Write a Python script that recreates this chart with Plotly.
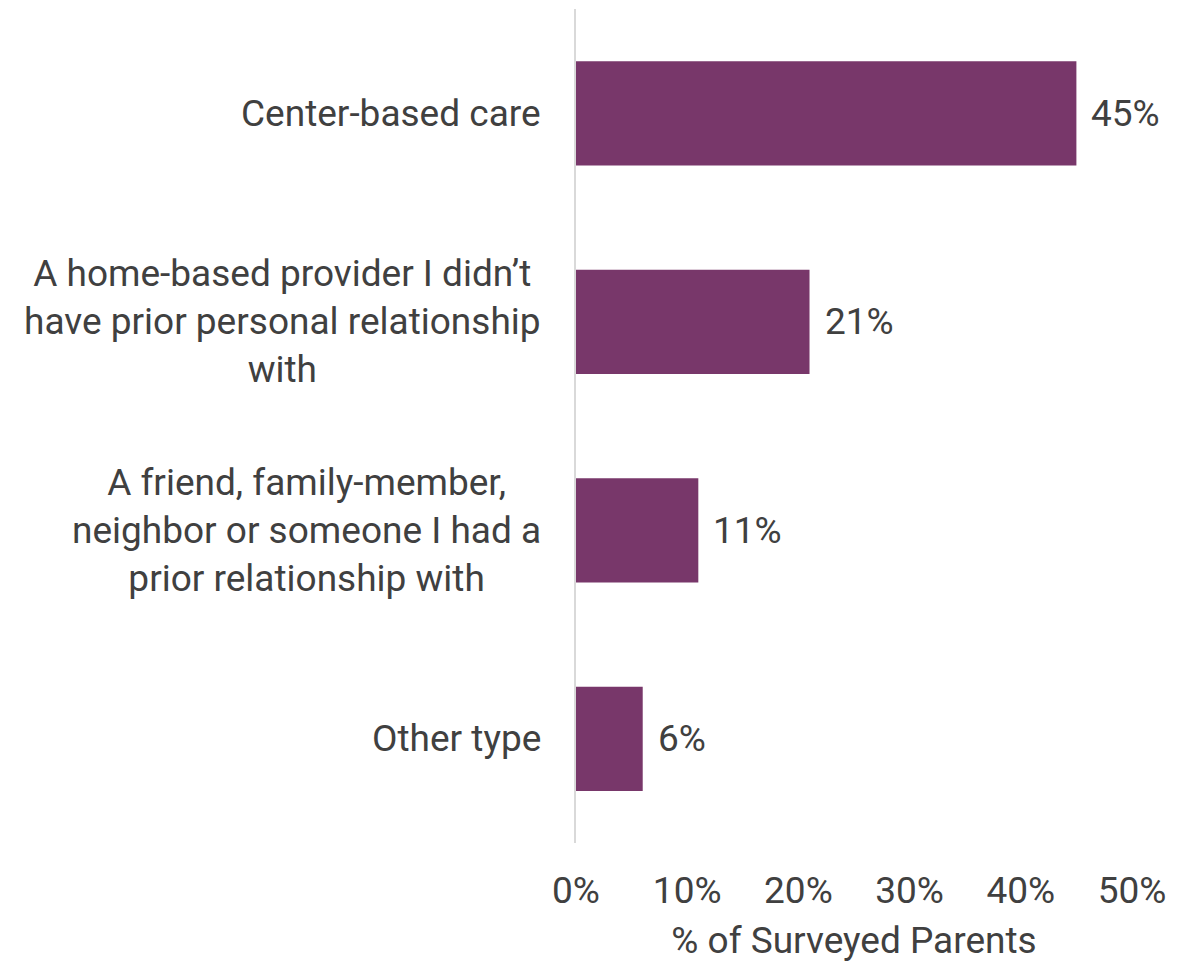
import plotly.graph_objects as go

categories = [
    "Center-based care",
    "A home-based provider I didn’t<br>have prior personal relationship<br>with",
    "A friend, family-member,<br>neighbor or someone I had a<br>prior relationship with",
    "Other type",
]
values = [45, 21, 11, 6]
value_labels = ["45%", "21%", "11%", "6%"]
x_ticks = [0, 10, 20, 30, 40, 50]
x_tick_labels = ["0%", "10%", "20%", "30%", "40%", "50%"]

BAR = "#78376A"
TXT = "#404040"
FONT = "Roboto"
FS = 37

fig = go.Figure()
fig.add_trace(go.Bar(
    x=values, y=categories, orientation="h",
    marker=dict(color=BAR, line=dict(width=0)),
    width=0.5, hoverinfo="skip",
))

for c, v, t in zip(categories, values, value_labels):
    fig.add_annotation(x=v, y=c, xref="x", yref="y", text=t, showarrow=False,
                       xanchor="left", xshift=13,
                       font=dict(family=FONT, size=FS, color=TXT))
    fig.add_annotation(x=0, y=c, xref="paper", yref="y", text=c, showarrow=False,
                       xanchor="right", align="center", xshift=-33,
                       font=dict(family=FONT, size=FS, color=TXT))

fig.update_layout(
    width=1184, height=954,
    margin=dict(l=568, r=60, t=1, b=119),
    paper_bgcolor="white", plot_bgcolor="white",
    showlegend=False,
    xaxis=dict(
        range=[0, 50], tickvals=x_ticks, ticktext=x_tick_labels,
        showgrid=False, zeroline=False, showline=False,
        ticks="", ticklabelstandoff=22,
        tickfont=dict(family=FONT, size=FS, color=TXT),
        title=dict(text="% of Surveyed Parents", standoff=17,
                   font=dict(family=FONT, size=FS, color=TXT)),
        automargin=False, fixedrange=True,
    ),
    yaxis=dict(
        categoryorder="array", categoryarray=categories[::-1],
        showticklabels=False, showgrid=False, zeroline=False,
        showline=True, linecolor="#D9D9D9", linewidth=2,
        automargin=False, fixedrange=True,
    ),
)

fig.write_html("out.html")
